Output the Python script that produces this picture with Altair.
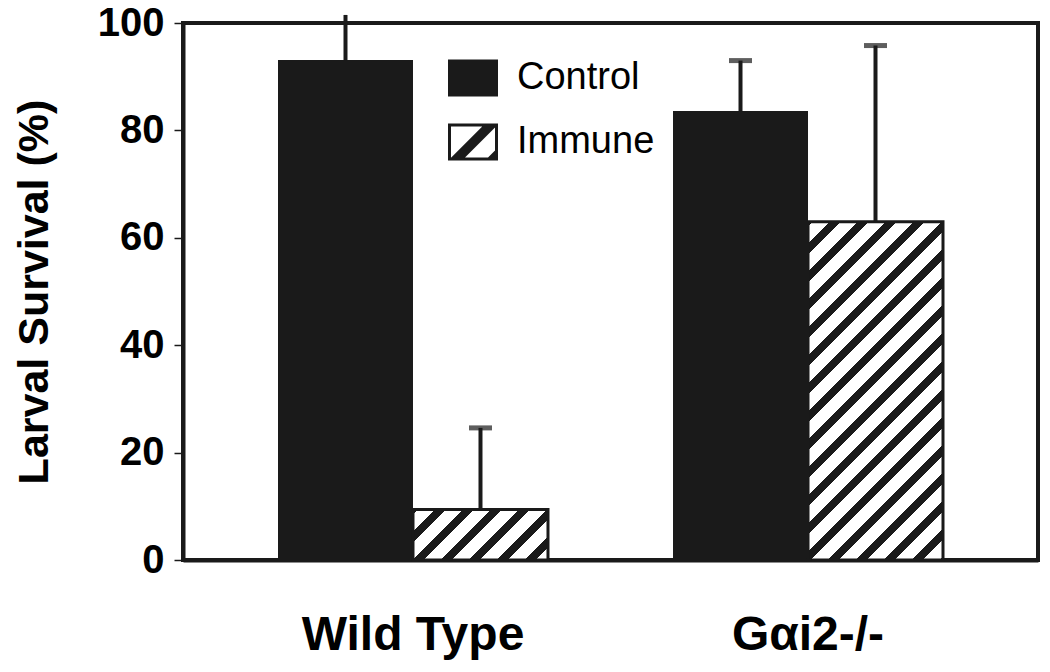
import altair as alt
import pandas as pd

# ---- data ----
groups = ["Wild Type", "Wild Type", "Gαi2-/-", "Gαi2-/-"]
treatments = ["Control", "Immune", "Control", "Immune"]
survival = [93.1, 9.4, 83.6, 63.0]
error_top = [101.5, 24.6, 93.0, 95.8]
group_order = ["Wild Type", "Gαi2-/-"]
treatment_order = ["Control", "Immune"]
y_ticks = [0, 20, 40, 60, 80, 100]

df = pd.DataFrame({"Group": groups, "Treatment": treatments,
                   "Survival": survival, "Top": error_top})

# ---- layout / style ----
W, H = 855, 537
P_IN, P_OUT = 0.3165, 0.2405
INK = "#1a1a1a"
FONT = "Liberation Sans, Arial, Helvetica, sans-serif"
step = W / (len(group_order) - P_IN + 2 * P_OUT)
bar_w = step * (1 - P_IN) / len(treatment_order)


def hatch_gradient(w, h, period=28.0, black=10.5, phase=6.0):
    """Linear gradient with hard stops giving '/' stripes at 45 deg on a w x h box."""
    L = w + h

    def col(p):
        return INK if ((p + phase) % period) < black else "white"

    bounds = []
    k = -1
    while k * period - phase <= L + period:
        for b in (k * period - phase, k * period - phase + black):
            if 0 < b < L:
                bounds.append(b)
        k += 1
    bounds.sort()
    stops = [{"offset": 0, "color": col(0.001)}]
    for b in bounds:
        o = round(b / L, 5)
        stops.append({"offset": o, "color": col(b - 0.001)})
        stops.append({"offset": o, "color": col(b + 0.001)})
    stops.append({"offset": 1, "color": col(L - 0.001)})
    c = L / (w * w + h * h)
    return {"gradient": "linear", "x1": 0, "y1": 0,
            "x2": round(c * w, 5), "y2": round(c * h, 5), "stops": stops}


def clip_band(poly, c1, c2):
    def clip(poly, inside, inter):
        out = []
        for i in range(len(poly)):
            a, b = poly[i - 1], poly[i]
            ia, ib = inside(a), inside(b)
            if ib:
                if not ia:
                    out.append(inter(a, b))
                out.append(b)
            elif ia:
                out.append(inter(a, b))
        return out

    def make_inter(c):
        def inter(a, b):
            sa, sb = a[0] + a[1], b[0] + b[1]
            t = (c - sa) / (sb - sa)
            return (a[0] + t * (b[0] - a[0]), a[1] + t * (b[1] - a[1]))
        return inter

    poly = clip(poly, lambda p: p[0] + p[1] >= c1, make_inter(c1))
    if poly:
        poly = clip(poly, lambda p: p[0] + p[1] <= c2, make_inter(c2))
    return poly


def to_path(poly):
    return "M" + "L".join(f"{x:.3f},{y:.3f}" for x, y in poly) + "Z"


HB = 0.74          # half height of swatch (half width = 1)
FR = 0.12          # frame thickness
outer = [(-1, -HB), (1, -HB), (1, HB), (-1, HB)]
inner = [(-1 + FR, -HB + FR), (1 - FR, -HB + FR), (1 - FR, HB - FR), (-1 + FR, HB - FR)]
solid_path = to_path(outer)
hatch_path = to_path(outer) + to_path(inner[::-1])
for c1, c2 in [(-0.25, 0.30), (1.22, 1.8)]:
    piece = clip_band(inner, c1, c2)
    if len(piece) >= 3:
        hatch_path += to_path(piece)

grad_wt = hatch_gradient(bar_w, survival[1] / 100 * H)
grad_g = hatch_gradient(bar_w, survival[3] / 100 * H)

x_enc = alt.X("Group:N", sort=group_order,
              scale=alt.Scale(domain=group_order, paddingInner=P_IN, paddingOuter=P_OUT),
              axis=alt.Axis(title=None, labelAngle=0, labelFont=FONT, labelFontSize=48,
                            labelFontWeight="bold", labelColor="black", labelPadding=51,
                            labelLimit=500, ticks=False, tickSize=0,
                            domainColor=INK, domainWidth=4))
xo_enc = alt.XOffset("Treatment:N",
                     scale=alt.Scale(domain=treatment_order, paddingInner=0, paddingOuter=0))
y_scale = alt.Scale(domain=[0, 100], nice=False)
y_enc = alt.Y("Survival:Q", scale=y_scale,
              axis=alt.Axis(values=y_ticks, title="Larval Survival (%)", titleFont=FONT,
                            titleFontSize=43, titleFontWeight="bold", titleColor="black",
                            titlePadding=41, labelFont=FONT, labelFontSize=40,
                            labelFontWeight="bold", labelColor="black", labelPadding=10,
                            tickSize=9, tickWidth=1.5, tickColor=INK, domainColor=INK,
                            domainWidth=4, grid=False))

base = alt.Chart(df)

control_bars = base.transform_filter("datum.Treatment == 'Control'").mark_bar(
    fill=INK).encode(x=x_enc, xOffset=xo_enc, y=y_enc)

immune_bars = base.transform_filter("datum.Treatment == 'Immune'").mark_bar(
    stroke=INK, strokeWidth=3).encode(
    x=x_enc, xOffset=xo_enc, y=y_enc,
    fill=alt.condition("datum.Group == 'Wild Type'", alt.value(grad_wt), alt.value(grad_g)))

stems = base.mark_rule(color=INK, strokeWidth=4).encode(
    x=x_enc, xOffset=xo_enc, y=y_enc, y2="Top:Q")

caps = base.transform_filter("datum.Top <= 100").mark_tick(
    color=INK, size=23, thickness=5, orient="horizontal").encode(
    x=x_enc, xOffset=xo_enc, y=alt.Y("Top:Q", scale=y_scale))

legend_pts = base.mark_point(filled=True, color=INK, opacity=0).encode(
    x=x_enc, xOffset=xo_enc, y=y_enc,
    shape=alt.Shape("Treatment:N",
                    scale=alt.Scale(domain=treatment_order, range=[solid_path, hatch_path]),
                    legend=alt.Legend(title=None, orient="none", legendX=265, legendY=30,
                                      padding=0, symbolSize=2500, symbolFillColor=INK,
                                      symbolStrokeWidth=0, symbolOpacity=1,
                                      labelFont=FONT, labelFontSize=38, labelColor="black",
                                      labelOffset=19, rowPadding=20, labelLimit=400)))

chart = alt.layer(control_bars, immune_bars, stems, caps, legend_pts).properties(
    width=W, height=H,
    autosize=alt.AutoSizeParams(type="none"),
    padding={"left": 175, "top": 15, "right": 4, "bottom": 100},
    background="white",
).configure_view(stroke=INK, strokeWidth=4)

chart.save("out.html", embed_options={"renderer": "svg", "actions": False})
